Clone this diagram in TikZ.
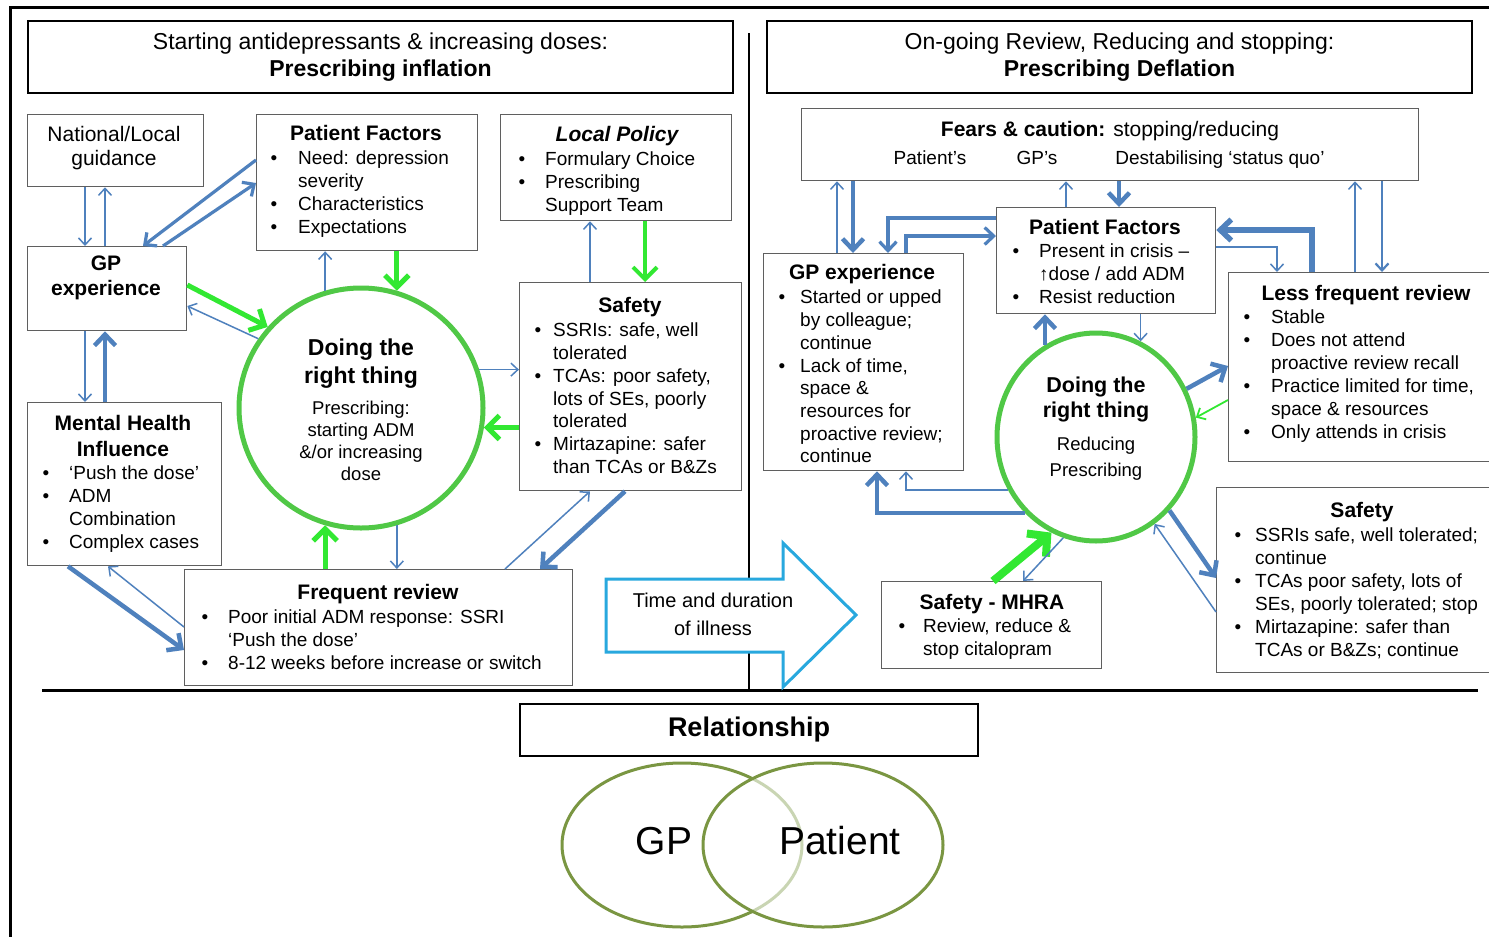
\documentclass[tikz,border=0pt]{standalone}
\usepackage{fontspec}
\setmainfont{Liberation Sans}
\usetikzlibrary{arrows.meta,shapes.geometric,calc}

\definecolor{linkblue}{RGB}{79,129,189}
\definecolor{ringgreen}{RGB}{80,200,70}
\definecolor{pushgreen}{RGB}{50,232,50}
\definecolor{timeblue}{RGB}{40,168,222}
\definecolor{venngreen}{RGB}{122,150,66}
\definecolor{framegray}{RGB}{95,95,95}

% bullet lists: gap between bullet and text is set per node
\newlength{\bulletgap}
\newcommand{\bitem}[1]{\makebox[\bulletgap][l]{\textbullet}#1}
\newcommand{\bcont}[1]{\hspace*{\bulletgap}#1}

% rectangle given by its corners (x1,y1) (x2,y2)
\newcommand{\areabox}[6][infobox]{%
  \node[#1,anchor=north west,minimum width={(#5)-(#3)},minimum height={(#6)-(#4)}] (#2) at (#3,#4) {};}

\tikzset{
  panelbox/.style={draw=black, line width=2pt, inner sep=0pt},
  infobox/.style={draw=framegray, line width=1.3pt, inner sep=0pt},
  bodytext/.style={inner sep=0pt, align=left, font=\fontsize{19pt}{23pt}\selectfont},
  headtext/.style={inner sep=0pt, font=\fontsize{21pt}{25pt}\selectfont\bfseries},
  ringtext/.style={inner sep=0pt, align=center, font=\fontsize{23pt}{28pt}\selectfont\bfseries},
  titletext/.style={inner sep=0pt, align=center, font=\fontsize{23pt}{27pt}\selectfont},
  bgap/.code={\setlength{\bulletgap}{#1}},
  thinlink/.style={draw=linkblue, line width=1.5pt, -{Straight Barb[length=7pt,width=13pt]}},
  midlink/.style={draw=linkblue, line width=3.2pt, -{Straight Barb[length=9pt,width=17pt]}},
  thicklink/.style={draw=linkblue, line width=4.5pt, -{Straight Barb[length=11pt,width=21pt]}},
  greenlink/.style={draw=pushgreen, line width=5pt, -{Straight Barb[length=12pt,width=24pt]}},
  greenthin/.style={draw=pushgreen, line width=1.8pt, -{Straight Barb[length=7pt,width=13pt]}},
  ring/.style={draw=ringgreen, line width=5pt, ellipse, inner sep=0pt},
}

\begin{document}
\begin{tikzpicture}[x=1pt,y=-1pt]
\useasboundingbox (0,0) rectangle (1489,937);
\fill[white] (0,0) rectangle (1489,937);

% outer frame and panel separators
\draw[line width=3pt] (10,937) -- (10,7) -- (1489,7);
\draw[line width=3pt] (42,690) -- (1478,690);
\draw[line width=2.5pt] (749,33) -- (749,690);

% ---------------- left panel: prescribing inflation ----------------
\areabox[panelbox]{titleL}{27}{20}{732}{92}
\node[titletext] (titleL-t) at (titleL.center) {Starting antidepressants \& increasing doses:\\\textbf{Prescribing inflation}};

\areabox{nat}{27}{114}{203}{186}
\node[inner sep=0pt, align=center, anchor=north, font=\fontsize{21pt}{24pt}\selectfont] (nat-t) at (114,126.5) {National/Local\\guidance};

\areabox{pfL}{256}{114}{477}{250}
\node[headtext, anchor=base] (pfL-h) at (366,140.5) {Patient Factors};
\node[bodytext, bgap=27.5pt, anchor=north west] (pfL-l) at (270.5,151) {\bitem{Need: depression}\\\bcont{severity}\\\bitem{Characteristics}\\\bitem{Expectations}};

\areabox{lp}{500}{114}{731}{220}
\node[headtext, anchor=base] (lp-h) at (617,141.5) {\itshape Local Policy};
\node[bodytext, bgap=26.5pt, anchor=north west] (lp-l) at (518.5,152) {\bitem{Formulary Choice}\\\bitem{Prescribing}\\\bcont{Support Team}};

\areabox{gpL}{27}{246}{186}{330}
\node[inner sep=0pt, align=center, anchor=north, font=\fontsize{21pt}{25pt}\selectfont\bfseries] (gpL-t) at (106,256) {GP\\experience};

\node[ring, minimum width=244pt, minimum height=240pt] (cL) at (361,408) {};
\node[ringtext, anchor=north] (cL-h) at (361,338.5) {Doing the\\right thing};
\node[bodytext, align=center, anchor=north, font=\fontsize{18.5pt}{21.8pt}\selectfont] (cL-b) at (361,401) {Prescribing:\\starting ADM\\\&/or increasing\\dose};

\areabox{safL}{519}{282}{741}{490}
\node[headtext, anchor=base] (safL-h) at (630,312.5) {Safety};
\node[bodytext, bgap=18.5pt, anchor=north west, font=\fontsize{19pt}{22.7pt}\selectfont] (safL-l) at (534.5,323) {\bitem{SSRIs: safe, well}\\\bcont{tolerated}\\\bitem{TCAs: poor safety,}\\\bcont{lots of SEs, poorly}\\\bcont{tolerated}\\\bitem{Mirtazapine: safer}\\\bcont{than TCAs or B\&Zs}};

\areabox{mh}{27}{402}{221}{565}
\node[inner sep=0pt, align=center, anchor=north, font=\fontsize{21pt}{26pt}\selectfont\bfseries] (mh-h) at (123,415.5) {Mental Health\\Influence};
\node[bodytext, bgap=26.5pt, anchor=north west] (mh-l) at (42.5,466) {\bitem{‘Push the dose’}\\\bitem{ADM}\\\bcont{Combination}\\\bitem{Complex cases}};

\areabox{frL}{184}{569}{572}{685}
\node[headtext, anchor=base] (frL-h) at (378,599.5) {Frequent review};
\node[bodytext, bgap=26.5pt, anchor=north west] (frL-l) at (201.5,610) {\bitem{Poor initial ADM response: SSRI}\\\bcont{‘Push the dose’}\\\bitem{8-12 weeks before increase or switch}};

% left panel connectors
\draw[thinlink] (85,0 |- nat.south) -- (85,0 |- gpL.north);
\draw[thinlink] (105,0 |- gpL.north) -- (105,0 |- nat.south);
\draw[midlink] (pfL.west |- 0,160) -- (gpL.north -| 143,0);
\draw[midlink] (gpL.north -| 163,0) -- (pfL.west |- 0,183);
\draw[greenlink] (gpL.east |- 0,285) -- (cL.139);
\draw[thinlink] (cL.146) -- (gpL.east |- 0,306);
\draw[thinlink] (85,0 |- gpL.south) -- (85,0 |- mh.north);
\draw[thicklink] (105,0 |- mh.north) -- (105,0 |- gpL.south);
\draw[thinlink] (cL.107) -- (cL.107 |- pfL.south);
\draw[greenlink] (cL.73 |- pfL.south) -- (cL.73);
\draw[thinlink] (590,0 |- safL.north) -- (590,0 |- lp.south);
\draw[greenlink, line width=4pt] (645,0 |- lp.south) -- (645,0 |- safL.north);
\draw[thinlink] (cL.18) -- (cL.18 -| safL.west);
\draw[greenlink] (cL.-9 -| safL.west) -- (cL.-9);
\draw[thinlink] (cL.-73) -- (cL.-73 |- frL.north);
\draw[greenlink] (cL.-107 |- frL.north) -- (cL.-107);
\draw[thinlink] (frL.north -| 505,0) -- (safL.south -| 590,0);
\draw[thicklink] (safL.south -| 625,0) -- (frL.north -| 540,0);
\draw[thicklink] (mh.south -| 68,0) -- (frL.west |- 0,650);
\draw[thinlink] (frL.west |- 0,627) -- (mh.south -| 108,0);

% time arrow across the divide
\draw[draw=timeblue, line width=3pt, fill=white, line join=miter]
  (606,579) -- (783,579) -- (783,543) -- (856,615) -- (783,687) -- (783,652) -- (606,652) -- cycle;
\node[inner sep=0pt, align=center, font=\fontsize{20pt}{28pt}\selectfont] (time-t) at (713,614) {Time and duration\\of illness};

% ---------------- right panel: prescribing deflation ----------------
\areabox[panelbox]{titleR}{766}{20}{1471}{92}
\node[titletext] (titleR-t) at (titleR.center) {On-going Review, Reducing and stopping:\\\textbf{Prescribing Deflation}};

\areabox{fears}{801}{108}{1418}{180}
\node[inner sep=0pt, anchor=base, font=\fontsize{21pt}{25pt}\selectfont] (fears-h) at (1110,136.5) {\textbf{Fears \& caution:} stopping/reducing};
\node[inner sep=0pt, anchor=base, font=\fontsize{19pt}{23pt}\selectfont] (fears-a) at (930,164) {Patient’s};
\node[inner sep=0pt, anchor=base, font=\fontsize{19pt}{23pt}\selectfont] (fears-b) at (1037,164) {GP’s};
\node[inner sep=0pt, anchor=base, font=\fontsize{19pt}{23pt}\selectfont] (fears-c) at (1220,164) {Destabilising ‘status quo’};

\areabox{gpR}{763}{253}{963}{470}
\node[headtext, anchor=base] (gpR-h) at (862,279.5) {GP experience};
\node[bodytext, bgap=21.5pt, anchor=north west, font=\fontsize{19pt}{22.7pt}\selectfont] (gpR-l) at (778.5,290) {\bitem{Started or upped}\\\bcont{by colleague;}\\\bcont{continue}\\\bitem{Lack of time,}\\\bcont{space \&}\\\bcont{resources for}\\\bcont{proactive review;}\\\bcont{continue}};

\areabox{pfR}{996}{207}{1215}{313}
\node[headtext, anchor=base] (pfR-h) at (1105,234.5) {Patient Factors};
\node[bodytext, bgap=26.5pt, anchor=north west] (pfR-l) at (1012.5,244) {\bitem{Present in crisis –}\\\bcont{↑dose / add ADM}\\\bitem{Resist reduction}};

\areabox{lfr}{1228}{272}{1500}{461}
\node[headtext, anchor=base] (lfr-h) at (1366,300.5) {Less frequent review};
\node[bodytext, bgap=27.5pt, anchor=north west] (lfr-l) at (1243.5,310) {\bitem{Stable}\\\bitem{Does not attend}\\\bcont{proactive review recall}\\\bitem{Practice limited for time,}\\\bcont{space \& resources}\\\bitem{Only attends in crisis}};

\node[ring, minimum width=198pt, minimum height=208pt] (cR) at (1096,437) {};
\node[ringtext, anchor=north, font=\fontsize{21.5pt}{24.5pt}\selectfont\bfseries] (cR-h) at (1096,377) {Doing the\\right thing};
\node[bodytext, align=center, anchor=north, font=\fontsize{18.5pt}{26pt}\selectfont] (cR-b) at (1096,437) {Reducing\\Prescribing};

\areabox{safR}{1216}{487}{1500}{672}
\node[headtext, anchor=base] (safR-h) at (1362,517.5) {Safety};
\node[bodytext, bgap=20.5pt, anchor=north west] (safR-l) at (1234.5,528) {\bitem{SSRIs safe, well tolerated;}\\\bcont{continue}\\\bitem{TCAs poor safety, lots of}\\\bcont{SEs, poorly tolerated; stop}\\\bitem{Mirtazapine: safer than}\\\bcont{TCAs or B\&Zs; continue}};

\areabox{mhra}{881}{581}{1101}{668}
\node[headtext, anchor=base] (mhra-h) at (992,609.5) {Safety - MHRA};
\node[bodytext, bgap=24.5pt, anchor=north west] (mhra-l) at (898.5,619) {\bitem{Review, reduce \&}\\\bcont{stop citalopram}};

% right panel connectors
\draw[thinlink] (837,0 |- gpR.north) -- (837,0 |- fears.south);
\draw[thicklink] (853,0 |- fears.south) -- (853,0 |- gpR.north);
\draw[thinlink] (1066,0 |- pfR.north) -- (1066,0 |- fears.south);
\draw[thicklink] (1119,0 |- fears.south) -- (1119,0 |- pfR.north);
\draw[midlink] (pfR.west |- 0,218) -| (888,0 |- gpR.north);
\draw[midlink] (906,0 |- gpR.north) |- (pfR.west |- 0,236);
\draw[thicklink, line width=5.5pt] (1312,0 |- lfr.north) |- (pfR.east |- 0,230);
\draw[thinlink] (pfR.east |- 0,247) -| (1277,0 |- lfr.north);
\draw[thinlink] (1355,0 |- lfr.north) -- (1355,0 |- fears.south);
\draw[thinlink, line width=2.2pt] (1382,0 |- fears.south) -- (1382,0 |- lfr.north);
\draw[thicklink] (cR.119) -- (cR.119 |- pfR.south);
\draw[thinlink] (cR.65 |- pfR.south) -- (cR.65);
\draw[thicklink] (cR.28) -- (lfr.west |- 0,366);
\draw[greenthin] (lfr.west |- 0,400) -- (cR.11);
\draw[thicklink] (cR.227) -| (877,0 |- gpR.south);
\draw[thinlink] (cR.211) -| (906,0 |- gpR.south);
\draw[greenlink, line width=8pt, -{Straight Barb[length=14pt,width=30pt]}] (mhra.north -| 993,0) -- (cR.245);
\draw[thinlink] (cR.252) -- (mhra.north -| 1023,0);
\draw[thicklink] (cR.-45) -- (safR.west |- 0,578);
\draw[thinlink] (safR.west |- 0,612) -- (cR.-56);

% ---------------- relationship ----------------
\areabox[panelbox]{rel}{519}{703}{977}{755}
\node[inner sep=0pt, font=\fontsize{27pt}{30pt}\selectfont\bfseries] (rel-t) at (rel.center) {Relationship};
\node[draw=venngreen, line width=3pt, ellipse, minimum width=240pt, minimum height=164pt] (vgp) at (682,845) {};
\node[draw=venngreen, line width=3pt, ellipse, minimum width=240pt, minimum height=164pt, fill=white, fill opacity=0.6] (vpat) at (823,845) {};
\node[inner sep=0pt, font=\fontsize{39pt}{42pt}\selectfont] (vgp-t) at (664,841) {GP};
\node[inner sep=0pt, font=\fontsize{39pt}{42pt}\selectfont] (vpat-t) at (840,841) {Patient};
\end{tikzpicture}
\end{document}
